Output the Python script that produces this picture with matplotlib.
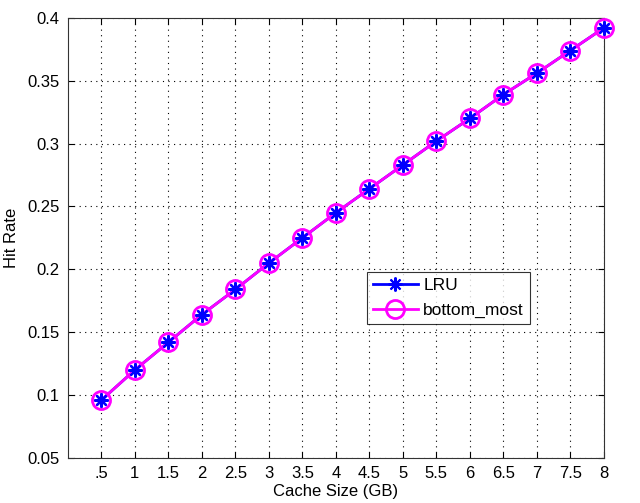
import matplotlib
matplotlib.use("Agg")
import matplotlib.pyplot as plt

plt.rcParams['font.family'] = ['Liberation Sans', 'DejaVu Sans']

cache_size = [0.5, 1, 1.5, 2, 2.5, 3, 3.5, 4, 4.5, 5, 5.5, 6, 6.5, 7, 7.5, 8]
lru = [0.096, 0.120, 0.142, 0.164, 0.184, 0.205, 0.225, 0.245, 0.264, 0.283,
       0.302, 0.320, 0.339, 0.356, 0.374, 0.392]
bottom_most = list(lru)
xtick_labels = ['.5', '1', '1.5', '2', '2.5', '3', '3.5', '4', '4.5', '5',
                '5.5', '6', '6.5', '7', '7.5', '8']
yticks = [0.05, 0.1, 0.15, 0.2, 0.25, 0.3, 0.35, 0.4]
ytick_labels = ['0.05', '0.1', '0.15', '0.2', '0.25', '0.3', '0.35', '0.4']

ast = (8, 2, 0)

fig = plt.figure(figsize=(6.4, 5.03), dpi=100)
ax = fig.add_axes([0.106, 0.0895, 0.8375, 0.875])

l1, = ax.plot(cache_size, lru, color='blue', lw=2, marker=ast, ms=10,
              mew=1.5, label='LRU', zorder=2, clip_on=False)
l2, = ax.plot(cache_size, bottom_most, color='magenta', lw=2, marker='o', ms=13,
              mfc='none', mec='magenta', mew=2, label='bottom_most', zorder=3, clip_on=False)
ax.plot(cache_size, lru, ls='none', color='blue', marker=ast, ms=10,
        mew=1.5, zorder=4, clip_on=False)

ax.set_xlim(0, 8)
ax.set_ylim(0.05, 0.4)
ax.set_xticks(cache_size)
ax.set_xticklabels(xtick_labels)
ax.set_yticks(yticks)
ax.set_yticklabels(ytick_labels)
ax.tick_params(direction='in', labelsize=12, length=4, top=True, right=True, pad=6)
ax.grid(True, color='black', ls=(0, (1, 4)), lw=0.8)
for s in ax.spines.values():
    s.set_linewidth(0.8)
    s.set_color('#333333')

ax.set_xlabel('Cache Size (GB)', fontsize=12, labelpad=2)
ax.set_ylabel('Hit Rate', fontsize=12, labelpad=6)

leg = ax.legend(handles=[l1, l2], loc='upper right', bbox_to_anchor=(0.862, 0.423),
                fontsize=12.5, frameon=True, fancybox=False, edgecolor='black',
                borderaxespad=0, handlelength=2.6, borderpad=0.35, labelspacing=0.55,
                handletextpad=0.3)
leg.get_frame().set_linewidth(0.8)

fig.savefig('out.png', dpi=100)
